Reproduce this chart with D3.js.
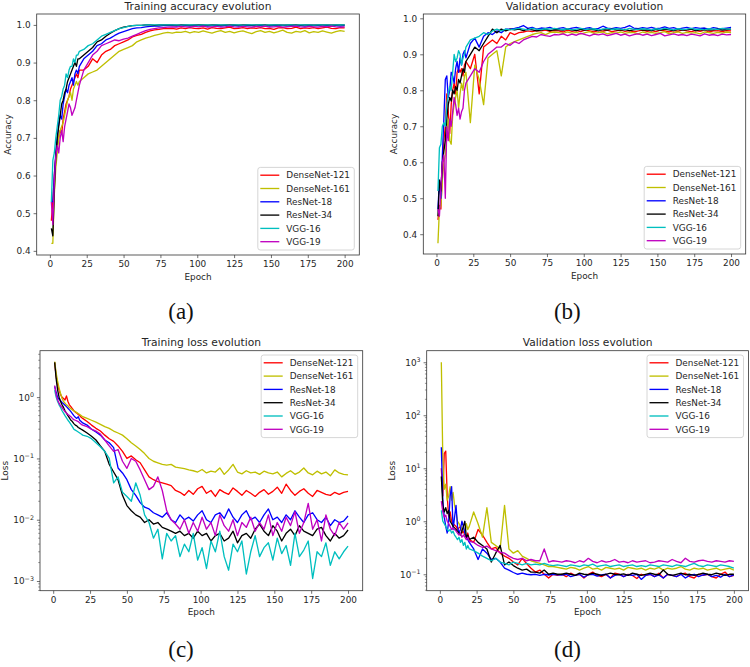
<!DOCTYPE html>
<html><head><meta charset="utf-8">
<script src="https://cdn.jsdelivr.net/npm/d3@7"></script>
<style>body{margin:0;background:#fff} svg{display:block}</style>
</head><body>
<svg id="chart" width="750" height="667"></svg>
<script>
// ---------- shared categories ----------
const epochs = [1,2,3,4,5,6,7,8,9,10,11,12,13,14,15,16,17,18,19,20,
  23,26,29,32,35,38,41,44,47,50,53,56,59,62,65,68,71,74,77,80,
  83,86,89,92,95,98,101,104,107,110,113,116,119,122,125,128,131,134,137,140,
  143,146,149,152,155,158,161,164,167,170,173,176,179,182,185,188,191,194,197,200];
const models = ["DenseNet-121","DenseNet-161","ResNet-18","ResNet-34","VGG-16","VGG-19"];
const colors = ["#ff0000","#bfbf00","#0000ff","#000000","#00bfbf","#bf00bf"];
const xTicks = [0,25,50,75,100,125,150,175,200];
const accTicks = [0.4,0.5,0.6,0.7,0.8,0.9,1.0];
const trainLossTicks = [1e-3,1e-2,1e-1,1e0];
const valLossTicks = [1e-1,1e0,1e1,1e2,1e3];

// ---------- (a) training accuracy ----------
const taDense121 = [0.48,0.53,0.60,0.65,0.68,0.70,0.72,0.71,0.75,0.77,0.79,0.80,0.81,0.83,0.84,0.85,0.86,0.87,0.86,0.88,
0.88,0.89,0.91,0.90,0.92,0.93,0.935,0.945,0.95,0.955,0.96,0.968,0.972,0.975,0.98,0.984,0.987,0.988,0.99,0.99,
0.991,0.989,0.992,0.99,0.993,0.991,0.99,0.992,0.989,0.993,0.991,0.99,0.992,0.994,0.99,0.991,0.993,0.99,0.992,0.991,
0.993,0.99,0.991,0.988,0.992,0.993,0.99,0.991,0.994,0.99,0.992,0.991,0.993,0.99,0.992,0.994,0.991,0.99,0.993,0.992];
const taDense161 = [0.42,0.42,0.55,0.62,0.66,0.70,0.72,0.73,0.74,0.76,0.78,0.80,0.81,0.82,0.80,0.83,0.84,0.85,0.84,0.85,
0.86,0.87,0.875,0.88,0.89,0.90,0.91,0.92,0.93,0.935,0.94,0.945,0.955,0.96,0.965,0.968,0.972,0.975,0.978,0.98,
0.978,0.981,0.98,0.983,0.979,0.982,0.98,0.984,0.981,0.978,0.982,0.985,0.98,0.983,0.979,0.982,0.984,0.98,0.977,0.982,
0.985,0.98,0.983,0.979,0.982,0.986,0.98,0.978,0.983,0.981,0.985,0.979,0.982,0.98,0.984,0.981,0.978,0.982,0.985,0.983];
const taRes18 = [0.53,0.53,0.60,0.66,0.70,0.74,0.76,0.75,0.79,0.81,0.83,0.82,0.84,0.85,0.86,0.84,0.87,0.88,0.87,0.89,
0.91,0.92,0.93,0.945,0.95,0.96,0.965,0.972,0.978,0.982,0.986,0.99,0.992,0.993,0.995,0.996,0.997,0.997,0.998,0.998,
0.998,0.997,0.999,0.998,0.997,0.998,0.999,0.998,0.997,0.998,0.999,0.997,0.998,0.998,0.999,0.997,0.998,0.999,0.998,0.997,
0.998,0.999,0.997,0.998,0.998,0.999,0.997,0.998,0.999,0.998,0.997,0.998,0.999,0.998,0.997,0.998,0.999,0.998,0.997,0.998];
const taRes34 = [0.46,0.44,0.56,0.65,0.70,0.73,0.76,0.79,0.80,0.82,0.83,0.85,0.86,0.87,0.88,0.89,0.90,0.89,0.91,0.91,
0.92,0.93,0.94,0.955,0.96,0.97,0.978,0.985,0.99,0.994,0.996,0.998,0.999,0.999,1.0,1.0,0.999,1.0,1.0,1.0,
1.0,0.9995,1.0,1.0,0.9995,1.0,1.0,1.0,0.9995,1.0,1.0,0.9995,1.0,1.0,1.0,0.9995,1.0,1.0,0.9995,1.0,
1.0,1.0,0.9995,1.0,1.0,0.9995,1.0,1.0,1.0,0.9995,1.0,1.0,0.9995,1.0,1.0,1.0,0.9995,1.0,1.0,1.0];
const taVgg16 = [0.53,0.64,0.66,0.70,0.73,0.76,0.80,0.81,0.83,0.84,0.87,0.86,0.88,0.89,0.89,0.91,0.90,0.92,0.92,0.93,
0.935,0.945,0.95,0.96,0.97,0.975,0.98,0.985,0.99,0.993,0.996,0.998,0.999,0.999,1.0,1.0,1.0,1.0,1.0,1.0,
1.0,1.0,0.9995,1.0,1.0,1.0,0.9995,1.0,1.0,0.9995,1.0,1.0,1.0,0.9995,1.0,1.0,0.9995,1.0,1.0,1.0,
1.0,0.9995,1.0,1.0,1.0,0.9995,1.0,1.0,0.9995,1.0,1.0,1.0,0.9995,1.0,1.0,1.0,0.9995,1.0,1.0,1.0];
const taVgg19 = [0.53,0.47,0.58,0.65,0.68,0.66,0.70,0.72,0.69,0.73,0.75,0.77,0.79,0.78,0.76,0.77,0.78,0.80,0.82,0.84,
0.88,0.90,0.92,0.93,0.945,0.95,0.955,0.96,0.958,0.962,0.965,0.97,0.975,0.98,0.985,0.988,0.99,0.992,0.993,0.994,
0.995,0.994,0.996,0.995,0.994,0.996,0.995,0.997,0.994,0.995,0.996,0.994,0.995,0.997,0.995,0.994,0.996,0.995,0.994,0.996,
0.995,0.997,0.994,0.995,0.996,0.994,0.995,0.996,0.997,0.995,0.994,0.996,0.995,0.994,0.996,0.995,0.997,0.995,0.994,0.995];

// ---------- (b) validation accuracy ----------
const vaDense121 = [0.44,0.48,0.47,0.58,0.66,0.70,0.79,0.74,0.68,0.76,0.80,0.82,0.79,0.85,0.86,0.85,0.86,0.84,0.87,0.88,
0.86,0.90,0.79,0.92,0.93,0.94,0.93,0.95,0.94,0.96,0.955,0.96,0.962,0.965,0.963,0.966,0.965,0.967,0.964,0.966,
0.965,0.962,0.967,0.964,0.966,0.963,0.968,0.965,0.962,0.966,0.964,0.967,0.963,0.965,0.968,0.964,0.966,0.962,0.965,0.967,
0.964,0.966,0.963,0.967,0.965,0.962,0.966,0.964,0.968,0.965,0.963,0.966,0.964,0.967,0.962,0.965,0.966,0.963,0.966,0.965];
const vaDense161 = [0.375,0.47,0.48,0.55,0.60,0.62,0.68,0.72,0.66,0.65,0.73,0.76,0.78,0.80,0.75,0.79,0.82,0.80,0.84,0.85,
0.71,0.87,0.83,0.76,0.89,0.90,0.91,0.84,0.92,0.93,0.935,0.94,0.945,0.95,0.955,0.958,0.96,0.955,0.96,0.962,
0.96,0.958,0.962,0.959,0.961,0.957,0.96,0.963,0.958,0.96,0.962,0.957,0.96,0.959,0.962,0.958,0.961,0.96,0.957,0.962,
0.959,0.961,0.958,0.96,0.963,0.957,0.96,0.962,0.958,0.961,0.959,0.96,0.957,0.962,0.96,0.958,0.961,0.959,0.962,0.96];
const vaRes18 = [0.47,0.55,0.50,0.62,0.72,0.83,0.84,0.78,0.80,0.85,0.84,0.82,0.86,0.88,0.85,0.89,0.87,0.90,0.91,0.89,
0.93,0.945,0.92,0.95,0.96,0.955,0.965,0.96,0.97,0.97,0.972,0.975,0.98,0.972,0.975,0.97,0.973,0.972,0.975,0.97,
0.972,0.974,0.97,0.973,0.975,0.971,0.972,0.974,0.97,0.972,0.978,0.973,0.971,0.974,0.972,0.975,0.98,0.973,0.971,0.974,
0.972,0.975,0.971,0.973,0.976,0.972,0.974,0.97,0.973,0.975,0.971,0.974,0.972,0.973,0.97,0.974,0.972,0.971,0.973,0.975];
const vaRes34 = [0.45,0.55,0.52,0.60,0.63,0.66,0.72,0.76,0.78,0.77,0.80,0.79,0.81,0.80,0.83,0.82,0.84,0.86,0.85,0.88,
0.90,0.92,0.91,0.93,0.95,0.97,0.96,0.97,0.965,0.97,0.968,0.97,0.966,0.97,0.968,0.965,0.967,0.97,0.966,0.968,
0.969,0.967,0.97,0.968,0.966,0.969,0.967,0.97,0.968,0.966,0.969,0.967,0.97,0.968,0.967,0.969,0.966,0.968,0.97,0.967,
0.968,0.966,0.969,0.967,0.97,0.968,0.966,0.969,0.967,0.968,0.97,0.966,0.968,0.969,0.967,0.968,0.97,0.967,0.969,0.97];
const vaVgg16 = [0.52,0.64,0.65,0.70,0.71,0.70,0.76,0.79,0.81,0.80,0.85,0.90,0.88,0.89,0.91,0.90,0.87,0.89,0.90,0.92,
0.94,0.945,0.95,0.96,0.955,0.965,0.97,0.965,0.97,0.968,0.97,0.972,0.97,0.968,0.972,0.97,0.969,0.971,0.97,0.972,
0.97,0.969,0.971,0.968,0.97,0.972,0.969,0.97,0.971,0.968,0.97,0.972,0.969,0.971,0.97,0.968,0.972,0.97,0.969,0.971,
0.97,0.968,0.971,0.969,0.972,0.97,0.968,0.971,0.969,0.97,0.972,0.969,0.97,0.968,0.971,0.97,0.969,0.972,0.97,0.97];
const vaVgg19 = [0.47,0.45,0.53,0.60,0.62,0.50,0.70,0.66,0.72,0.70,0.74,0.78,0.76,0.73,0.75,0.72,0.74,0.75,0.80,0.82,
0.84,0.86,0.85,0.88,0.90,0.91,0.92,0.92,0.93,0.925,0.935,0.93,0.94,0.945,0.95,0.948,0.955,0.952,0.95,0.955,
0.954,0.957,0.952,0.956,0.953,0.958,0.955,0.951,0.956,0.954,0.957,0.952,0.955,0.958,0.953,0.956,0.951,0.955,0.957,0.953,
0.956,0.952,0.955,0.958,0.951,0.954,0.957,0.953,0.955,0.952,0.956,0.954,0.951,0.957,0.953,0.955,0.952,0.956,0.954,0.955];

// ---------- (c) training loss ----------
const tlDense121 = [3.7,2.2,1.6,1.3,1.1,1.0,0.95,0.9,1.05,0.85,0.75,0.7,0.65,0.6,0.57,0.55,0.52,0.5,0.47,0.45,
0.4,0.35,0.31,0.28,0.24,0.21,0.19,0.16,0.13,0.1,0.11,0.095,0.085,0.065,0.05,0.045,0.042,0.04,0.038,0.036,
0.03,0.028,0.025,0.03,0.026,0.032,0.035,0.027,0.03,0.024,0.031,0.028,0.026,0.033,0.029,0.025,0.03,0.027,0.024,0.028,
0.031,0.026,0.029,0.034,0.027,0.038,0.03,0.025,0.029,0.032,0.027,0.024,0.03,0.028,0.026,0.025,0.028,0.026,0.028,0.029];
const tlDense161 = [3.8,2.5,1.8,1.4,1.15,0.95,0.85,0.8,0.75,0.72,0.68,0.65,0.62,0.6,0.58,0.56,0.54,0.52,0.5,0.48,
0.45,0.42,0.39,0.36,0.33,0.31,0.28,0.26,0.24,0.21,0.18,0.16,0.14,0.12,0.1,0.09,0.085,0.08,0.078,0.08,
0.072,0.07,0.068,0.065,0.063,0.06,0.066,0.058,0.062,0.06,0.07,0.055,0.065,0.08,0.06,0.056,0.063,0.058,0.06,0.055,
0.062,0.058,0.056,0.06,0.05,0.057,0.063,0.055,0.06,0.07,0.058,0.054,0.062,0.056,0.06,0.052,0.065,0.058,0.055,0.054];
const tlRes18 = [1.5,1.2,1.0,0.92,0.88,0.82,0.78,0.74,0.7,0.66,0.62,0.58,0.54,0.5,0.47,0.45,0.48,0.42,0.4,0.38,
0.35,0.3,0.27,0.24,0.2,0.18,0.15,0.07,0.058,0.045,0.031,0.025,0.019,0.016,0.015,0.013,0.012,0.011,0.013,0.01,
0.009,0.012,0.01,0.011,0.0095,0.012,0.014,0.01,0.009,0.012,0.013,0.0105,0.015,0.011,0.009,0.012,0.014,0.01,0.011,0.009,
0.012,0.015,0.01,0.011,0.009,0.012,0.01,0.014,0.011,0.009,0.012,0.013,0.01,0.009,0.011,0.008,0.01,0.009,0.0095,0.0115];
const tlRes34 = [3.7,2.0,1.3,1.0,0.85,0.75,0.68,0.6,0.55,0.5,0.46,0.42,0.4,0.37,0.35,0.34,0.32,0.31,0.3,0.29,
0.26,0.23,0.2,0.16,0.13,0.08,0.06,0.045,0.025,0.017,0.014,0.012,0.011,0.009,0.01,0.0085,0.009,0.0075,0.007,0.0065,
0.006,0.0065,0.0055,0.006,0.005,0.0065,0.0055,0.006,0.0045,0.0055,0.006,0.0045,0.005,0.0065,0.0042,0.0055,0.006,0.005,0.007,0.0085,
0.0065,0.0055,0.008,0.0065,0.0045,0.006,0.007,0.0055,0.008,0.0065,0.006,0.0055,0.007,0.0075,0.0055,0.0045,0.006,0.005,0.0055,0.0068];
const tlVgg16 = [1.3,1.0,0.85,0.75,0.68,0.6,0.55,0.5,0.46,0.42,0.39,0.36,0.33,0.3,0.29,0.28,0.27,0.26,0.25,0.24,
0.23,0.21,0.18,0.155,0.13,0.1,0.04,0.05,0.028,0.024,0.02,0.04,0.025,0.012,0.009,0.005,0.007,0.0023,0.006,0.0045,
0.0055,0.0025,0.004,0.003,0.006,0.0022,0.0035,0.0016,0.0045,0.003,0.0065,0.0025,0.0015,0.004,0.003,0.0045,0.0013,0.003,0.0055,0.0025,
0.0035,0.0042,0.0022,0.005,0.0028,0.0038,0.0018,0.006,0.0025,0.0032,0.0045,0.0011,0.003,0.0025,0.0042,0.0018,0.003,0.0023,0.003,0.0037];
const tlVgg19 = [1.55,1.1,0.9,0.8,0.72,0.68,0.62,0.58,0.55,0.52,0.5,0.48,0.45,0.43,0.42,0.41,0.4,0.38,0.36,0.35,
0.33,0.3,0.28,0.25,0.2,0.16,0.13,0.14,0.09,0.069,0.1,0.09,0.065,0.045,0.031,0.035,0.05,0.03,0.014,0.01,
0.0085,0.007,0.01,0.006,0.009,0.0065,0.011,0.007,0.009,0.0055,0.012,0.008,0.0065,0.01,0.0055,0.009,0.0075,0.011,0.0065,0.009,
0.007,0.012,0.0055,0.009,0.0065,0.011,0.008,0.0135,0.006,0.009,0.0185,0.007,0.01,0.0045,0.012,0.007,0.0055,0.009,0.007,0.0089];

// ---------- (d) validation loss ----------
const vlDense121 = [10,3.0,19,21,3.0,1.2,1.5,1.0,0.9,0.85,0.8,0.7,0.75,0.8,0.6,0.65,0.55,0.5,0.6,0.45,
0.4,0.7,0.55,0.4,0.3,0.32,0.25,0.22,0.2,0.17,0.15,0.2,0.16,0.13,0.11,0.12,0.1,0.085,0.1,0.095,
0.1,0.09,0.105,0.095,0.1,0.085,0.1,0.11,0.095,0.09,0.1,0.085,0.105,0.1,0.09,0.1,0.095,0.083,0.1,0.095,
0.1,0.09,0.105,0.085,0.1,0.095,0.09,0.1,0.105,0.09,0.085,0.1,0.095,0.1,0.09,0.085,0.1,0.11,0.09,0.095];
const vlDense161 = [1000,15,4,5,2.5,3,4.5,2.5,3.5,2,1.5,1.0,0.9,0.8,0.7,0.75,0.6,0.9,0.7,0.8,
1.5,0.9,0.5,1.8,0.4,0.35,0.3,2.0,0.3,0.25,0.28,0.22,0.2,0.18,0.17,0.16,0.15,0.14,0.14,0.135,
0.13,0.125,0.135,0.13,0.12,0.13,0.14,0.125,0.13,0.12,0.135,0.13,0.125,0.13,0.12,0.135,0.13,0.125,0.13,0.12,
0.13,0.125,0.135,0.12,0.13,0.125,0.13,0.14,0.125,0.12,0.13,0.125,0.13,0.12,0.125,0.13,0.12,0.125,0.13,0.12];
const vlRes18 = [25,2.5,1.2,0.8,0.6,1.0,3.0,4.5,0.7,1.2,2.0,0.8,0.6,0.7,1.0,0.8,0.6,0.5,0.45,0.4,
0.3,0.19,0.3,0.25,0.19,0.2,0.17,0.13,0.12,0.108,0.1,0.105,0.1,0.098,0.1,0.095,0.1,0.097,0.1,0.098,
0.097,0.1,0.09,0.095,0.1,0.088,0.098,0.1,0.092,0.097,0.1,0.085,0.095,0.1,0.09,0.098,0.095,0.1,0.08,0.095,
0.1,0.09,0.097,0.085,0.1,0.095,0.09,0.1,0.085,0.095,0.1,0.09,0.097,0.1,0.09,0.095,0.088,0.1,0.09,0.097];
const vlRes34 = [7,2.0,1.5,1.8,1.4,1.6,1.0,0.9,0.8,0.75,0.7,0.65,0.6,0.55,0.65,0.8,1.0,0.5,0.55,0.45,
0.5,0.4,0.35,0.3,0.17,0.25,0.35,0.15,0.17,0.146,0.13,0.12,0.125,0.11,0.11,0.105,0.12,0.1,0.105,0.1,
0.1,0.105,0.1,0.095,0.105,0.1,0.098,0.105,0.1,0.095,0.1,0.105,0.1,0.098,0.102,0.095,0.105,0.1,0.095,0.1,
0.105,0.1,0.098,0.12,0.1,0.095,0.1,0.105,0.098,0.1,0.095,0.1,0.105,0.1,0.098,0.105,0.1,0.095,0.1,0.1];
const vlVgg16 = [1.6,1.0,0.9,0.8,0.7,0.65,0.7,0.6,0.65,0.55,0.5,0.45,0.5,0.4,0.45,0.35,0.4,0.3,0.35,0.3,
0.28,0.25,0.22,0.2,0.18,0.2,0.17,0.16,0.15,0.17,0.16,0.15,0.16,0.15,0.155,0.15,0.16,0.15,0.145,0.15,
0.145,0.14,0.15,0.145,0.14,0.15,0.145,0.155,0.14,0.145,0.15,0.14,0.145,0.15,0.14,0.145,0.15,0.14,0.145,0.14,
0.15,0.145,0.14,0.15,0.145,0.14,0.15,0.145,0.14,0.15,0.16,0.145,0.14,0.15,0.145,0.14,0.15,0.145,0.14,0.13];
const vlVgg19 = [2.4,1.5,1.2,1.3,1.0,0.9,0.8,0.7,0.75,0.7,0.65,0.6,0.55,0.6,0.5,0.55,0.5,0.45,0.5,0.42,
0.4,0.35,0.32,0.34,0.3,0.28,0.26,0.25,0.22,0.2,0.19,0.2,0.18,0.19,0.18,0.18,0.3,0.17,0.18,0.175,
0.17,0.18,0.175,0.165,0.18,0.17,0.2,0.175,0.165,0.18,0.17,0.175,0.19,0.17,0.175,0.165,0.18,0.17,0.175,0.18,
0.165,0.17,0.18,0.175,0.17,0.19,0.175,0.165,0.2,0.175,0.17,0.18,0.185,0.175,0.17,0.18,0.175,0.17,0.18,0.175];

// ---------- layout ----------
const panels = [
  {title:"Training accuracy evolution", ylabel:"Accuracy", caption:"(a)",
   series:[taDense121,taDense161,taRes18,taRes34,taVgg16,taVgg19],
   log:false, yDomain:[0.389,1.029], yTicks:accTicks,
   left:36.7, right:359.3, top:14, bottom:255, legend:"br", ylabX:10.6, capX:181, capY:319.3},
  {title:"Validation accuracy evolution", ylabel:"Accuracy", caption:"(b)",
   series:[vaDense121,vaDense161,vaRes18,vaRes34,vaVgg16,vaVgg19],
   log:false, yDomain:[0.345,1.012], yTicks:accTicks,
   left:423.3, right:745.7, top:14, bottom:254, legend:"br", ylabX:397, capX:567.3, capY:319.3},
  {title:"Training loss evolution", ylabel:"Loss", caption:"(c)",
   series:[tlDense121,tlDense161,tlRes18,tlRes34,tlVgg16,tlVgg19],
   log:true, yDomain:[Math.pow(10,-3.158),Math.pow(10,0.758)], yTicks:trainLossTicks,
   left:40, right:362.7, top:350.7, bottom:590.7, legend:"tr", ylabX:8.3, capX:181, capY:656.6},
  {title:"Validation loss evolution", ylabel:"Loss", caption:"(d)",
   series:[vlDense121,vlDense161,vlRes18,vlRes34,vlVgg16,vlVgg19],
   log:true, yDomain:[Math.pow(10,-1.31),Math.pow(10,3.218)], yTicks:valLossTicks,
   left:426.7, right:748.5, top:350.7, bottom:590.7, legend:"tr", ylabX:395, capX:567.5, capY:656.6}
];

const svg = d3.select("#chart");
const FONT = "'DejaVu Sans', sans-serif";
const textCol = "#262626";
const supDigits = v => {
  const e = Math.round(Math.log10(v));
  return e < 0 ? "\u2212" + Math.abs(e) : String(e);
};

panels.forEach((p, pi) => {
  const x = d3.scaleLinear().domain([-8.95, 209.95]).range([p.left, p.right]);
  const y = (p.log ? d3.scaleLog() : d3.scaleLinear()).domain(p.yDomain).range([p.bottom, p.top]);
  const g = svg.append("g");

  const clipId = "clip" + pi;
  svg.append("clipPath").attr("id", clipId).append("rect")
    .attr("x", p.left).attr("y", p.top).attr("width", p.right - p.left).attr("height", p.bottom - p.top);

  // lines
  const line = d3.line().x(d => x(d[0])).y(d => y(d[1])).curve(d3.curveLinear);
  const lg = g.append("g").attr("clip-path", `url(#${clipId})`);
  p.series.forEach((s, si) => {
    const pts = epochs.map((e, i) => [e, s[i]]).filter(d => d[1] !== undefined);
    lg.append("path").datum(pts).attr("d", line)
      .attr("fill", "none").attr("stroke", colors[si]).attr("stroke-width", 1.33)
      .attr("stroke-linejoin", "round");
  });

  // frame
  g.append("rect").attr("x", p.left).attr("y", p.top)
    .attr("width", p.right - p.left).attr("height", p.bottom - p.top)
    .attr("fill", "none").attr("stroke", "#333").attr("stroke-width", 0.8);

  // x axis ticks
  const xa = d3.axisBottom(x).tickValues(xTicks).tickSize(3.1).tickPadding(2.5).tickFormat(d3.format("d"));
  const xg = g.append("g").attr("transform", `translate(0,${p.bottom})`).call(xa);
  xg.select(".domain").remove();
  xg.selectAll("line").attr("stroke", "#333").attr("stroke-width", 0.7);
  xg.selectAll("text").attr("font-family", FONT).attr("font-size", 8.9).attr("fill", textCol);

  // y axis ticks
  const ya = d3.axisLeft(y).tickValues(p.yTicks).tickSize(3.1).tickPadding(3);
  if (p.log) ya.tickFormat(() => ""); else ya.tickFormat(d3.format(".1f"));
  const yg = g.append("g").attr("transform", `translate(${p.left},0)`).call(ya);
  yg.select(".domain").remove();
  yg.selectAll("line").attr("stroke", "#333").attr("stroke-width", 0.7);
  yg.selectAll("text").attr("font-family", FONT).attr("font-size", 8.9).attr("fill", textCol);
  if (p.log) {
    yg.selectAll(".tick text").each(function(d) {
      const t = d3.select(this).text(null).attr("dy", "0.32em");
      t.append("tspan").text("10");
      t.append("tspan").text(supDigits(d)).attr("font-size", 6.3).attr("dy", "-0.55em");
    });
    // minor ticks
    const [lo, hi] = p.yDomain;
    const minors = [];
    for (let k = Math.floor(Math.log10(lo)); k <= Math.ceil(Math.log10(hi)); k++) {
      for (let m = 2; m <= 9; m++) {
        const v = m * Math.pow(10, k);
        if (v >= lo && v <= hi) minors.push(v);
      }
    }
    g.append("g").selectAll("line").data(minors).join("line")
      .attr("x1", p.left - 1.8).attr("x2", p.left)
      .attr("y1", d => y(d)).attr("y2", d => y(d))
      .attr("stroke", "#333").attr("stroke-width", 0.5);
  }

  // titles
  const cx = (p.left + p.right) / 2;
  g.append("text").attr("x", cx).attr("y", p.top - 4.5).attr("text-anchor", "middle")
    .attr("font-family", FONT).attr("font-size", 10.7).attr("fill", textCol).text(p.title);
  g.append("text").attr("x", cx).attr("y", p.bottom + 24.5).attr("text-anchor", "middle")
    .attr("font-family", FONT).attr("font-size", 8.9).attr("fill", textCol).text("Epoch");
  const cy = (p.top + p.bottom) / 2;
  g.append("text").attr("transform", `translate(${p.ylabX},${cy}) rotate(-90)`).attr("text-anchor", "middle")
    .attr("font-family", FONT).attr("font-size", 8.9).attr("fill", textCol).text(p.ylabel);

  // legend
  const lw = 96.5, lh = 82.6;
  const lx = p.right - 5 - lw;
  const ly = p.legend === "br" ? p.bottom - 5 - lh : p.top + 4.3;
  const leg = g.append("g");
  leg.append("rect").attr("x", lx).attr("y", ly).attr("width", lw).attr("height", lh)
    .attr("rx", 2.5).attr("fill", "#fff").attr("fill-opacity", 0.8)
    .attr("stroke", "#cccccc").attr("stroke-width", 0.8);
  models.forEach((m, i) => {
    const yy = ly + 7.8 + i * 13.3;
    leg.append("line").attr("x1", lx + 2.5).attr("x2", lx + 21.5).attr("y1", yy).attr("y2", yy)
      .attr("stroke", colors[i]).attr("stroke-width", 1.33);
    leg.append("text").attr("x", lx + 28.5).attr("y", yy + 3.2)
      .attr("font-family", FONT).attr("font-size", 8.9).attr("fill", textCol).text(m);
  });

  // caption
  svg.append("text").attr("x", p.capX).attr("y", p.capY).attr("text-anchor", "middle")
    .attr("font-family", "'Liberation Serif', 'DejaVu Serif', serif").attr("font-size", 23)
    .attr("fill", "#111").text(p.caption);
});
</script>
</body></html>
